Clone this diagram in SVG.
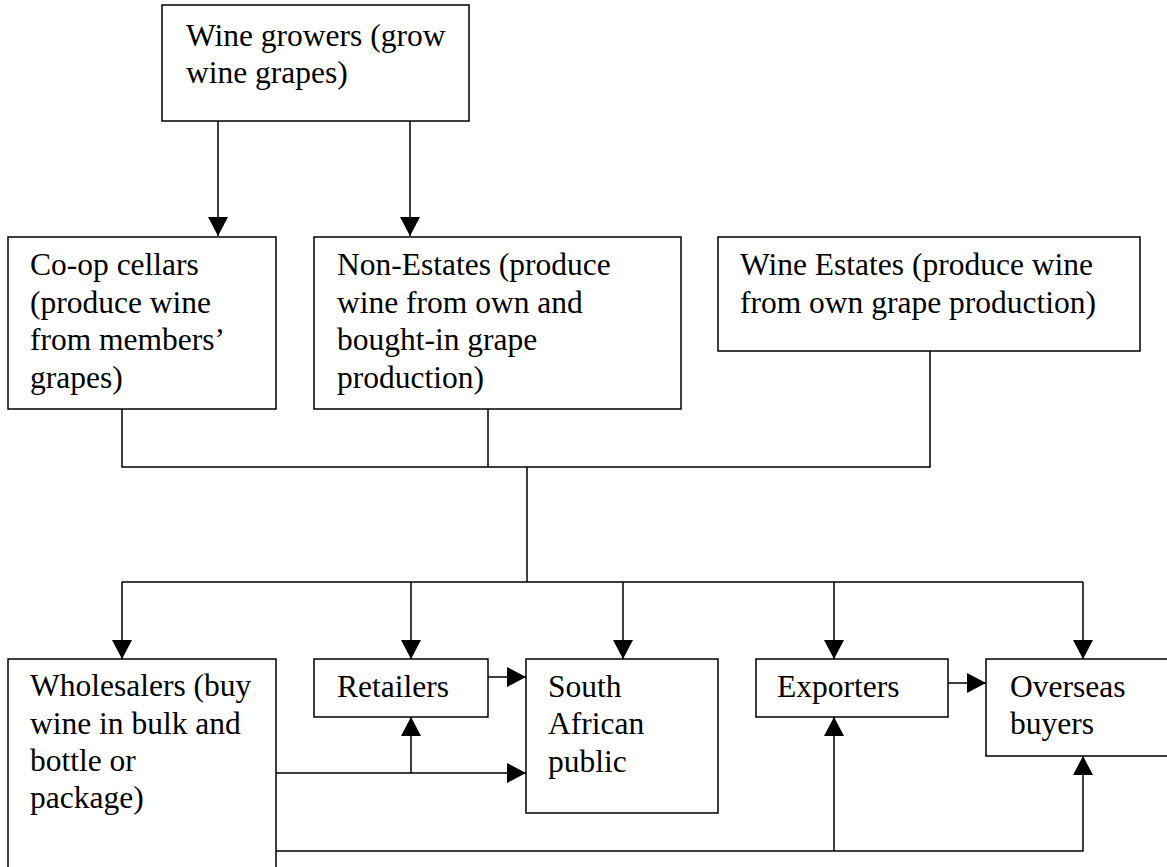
<svg xmlns="http://www.w3.org/2000/svg" width="1167" height="867" viewBox="0 0 1167 867">
<style>
.box{fill:#fff;stroke:#000;stroke-width:1.5}
.lbl{font-family:"Liberation Serif","Times New Roman",serif;font-size:31.5px;fill:#000}
.ln{fill:none;stroke:#000;stroke-width:1.5}
.arr{marker-end:url(#ah)}
</style>
<defs>
<marker id="ah" markerUnits="userSpaceOnUse" markerWidth="19" markerHeight="20" viewBox="0 0 19 20" refX="19" refY="10" orient="auto">
<path d="M0,0 L19,10 L0,20 Z" fill="#000"/>
</marker>
</defs>
<rect width="1167" height="867" fill="#fff"/>
<g id="connectors">
<path class="ln arr" d="M218,121 V236"/>
<path class="ln arr" d="M410,121 V236"/>
<path class="ln" d="M122,409 V467 H930 V351"/>
<path class="ln" d="M488,409 V467"/>
<path class="ln" d="M527,467 V582"/>
<path class="ln" d="M122,582 H1083"/>
<path class="ln arr" d="M122,582 V659"/>
<path class="ln arr" d="M411,582 V659"/>
<path class="ln arr" d="M623,582 V659"/>
<path class="ln arr" d="M834,582 V659"/>
<path class="ln arr" d="M1083,582 V659"/>
<path class="ln arr" d="M488,677 H526"/>
<path class="ln arr" d="M948,683 H986"/>
<path class="ln arr" d="M276,773 H526"/>
<path class="ln arr" d="M411,773 V717"/>
<path class="ln arr" d="M276,851 H1083 V756"/>
<path class="ln arr" d="M834,851 V717"/>
</g>
<g id="growers">
<rect class="box" x="162" y="5" width="307" height="116"/>
<text class="lbl" x="186" y="46">Wine growers (grow</text>
<text class="lbl" x="186" y="83">wine grapes)</text>
</g>
<g id="coop">
<rect class="box" x="8" y="237" width="268" height="172"/>
<text class="lbl" x="30" y="275">Co-op cellars</text>
<text class="lbl" x="30" y="313">(produce wine</text>
<text class="lbl" x="30" y="350">from members’</text>
<text class="lbl" x="30" y="388">grapes)</text>
</g>
<g id="nonestates">
<rect class="box" x="314" y="237" width="367" height="172"/>
<text class="lbl" x="337" y="275">Non-Estates (produce</text>
<text class="lbl" x="337" y="313">wine from own and</text>
<text class="lbl" x="337" y="350">bought-in grape</text>
<text class="lbl" x="337" y="388">production)</text>
</g>
<g id="estates">
<rect class="box" x="718" y="237" width="422" height="114"/>
<text class="lbl" x="740" y="275">Wine Estates (produce wine</text>
<text class="lbl" x="740" y="313">from own grape production)</text>
</g>
<g id="wholesalers">
<rect class="box" x="8" y="659" width="268" height="225"/>
<text class="lbl" x="30" y="696">Wholesalers (buy</text>
<text class="lbl" x="30" y="734">wine in bulk and</text>
<text class="lbl" x="30" y="771">bottle or</text>
<text class="lbl" x="30" y="808">package)</text>
</g>
<g id="retailers">
<rect class="box" x="314" y="659" width="174" height="58"/>
<text class="lbl" x="337" y="697">Retailers</text>
</g>
<g id="sapublic">
<rect class="box" x="526" y="659" width="192" height="154"/>
<text class="lbl" x="548" y="697">South</text>
<text class="lbl" x="548" y="734">African</text>
<text class="lbl" x="548" y="772">public</text>
</g>
<g id="exporters">
<rect class="box" x="756" y="659" width="192" height="58"/>
<text class="lbl" x="777" y="697">Exporters</text>
</g>
<g id="overseas">
<rect class="box" x="986" y="659" width="190" height="97"/>
<text class="lbl" x="1010" y="697">Overseas</text>
<text class="lbl" x="1010" y="734">buyers</text>
</g>
</svg>
